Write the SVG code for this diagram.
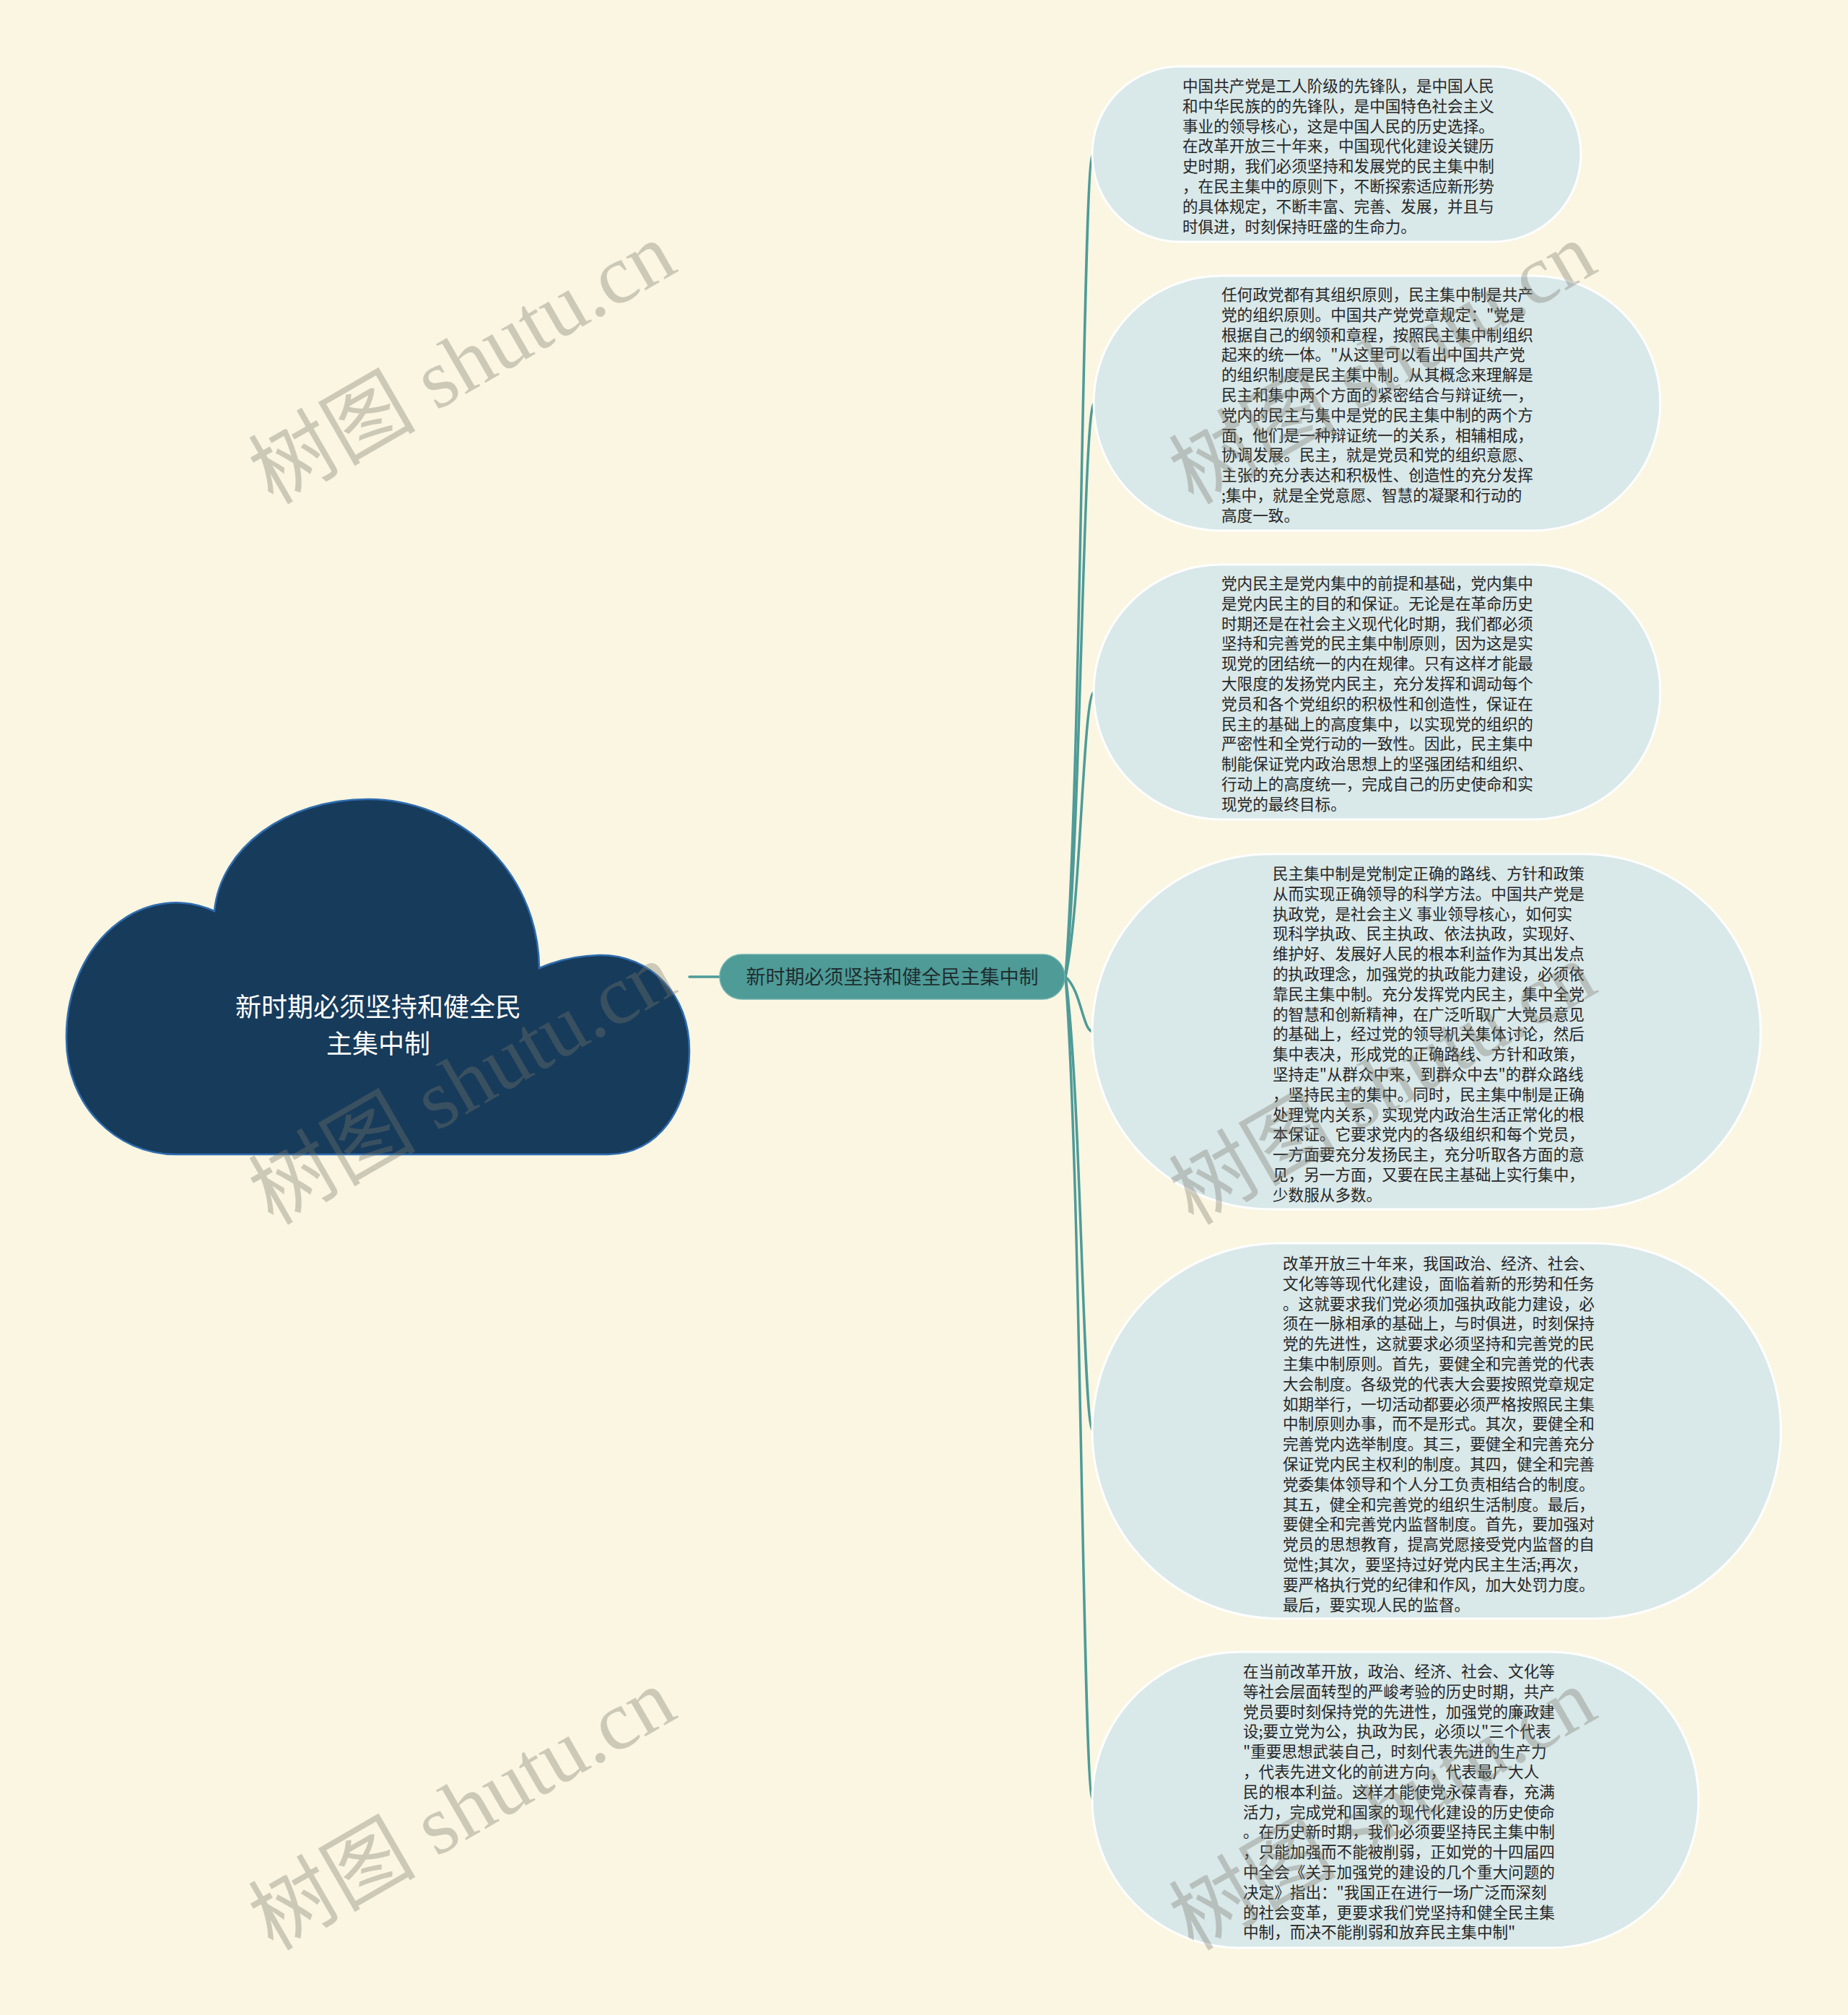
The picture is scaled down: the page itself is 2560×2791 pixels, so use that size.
<svg xmlns="http://www.w3.org/2000/svg" width="2560" height="2791" viewBox="0 0 2560 2791">
<style>
.leaf{fill:#d9e8e9;stroke:#ffffff;stroke-width:3}
.lt{font-family:"Noto Sans CJK SC","Noto Sans",sans-serif;font-size:21.6px;fill:#262626}
.conn{fill:none;stroke:#4e9b98;stroke-width:3.5;stroke-linecap:round}
.wm{font-family:"Liberation Serif","Noto Sans CJK SC",serif;font-size:116px;fill:#7a786a;opacity:0.35}
</style>
<rect x="0" y="0" width="2560" height="2791" fill="#faf6e2"/>
<g id="connectors">
<path class="conn" d="M955 1353 H997"/>
<path class="conn" d="M1476 1353 C1498 1068 1500 214 1514 214"/>
<path class="conn" d="M1476 1353 C1498 1154 1500 558 1516 558"/>
<path class="conn" d="M1476 1353 C1498 1254 1500 958 1516 958"/>
<path class="conn" d="M1476 1353 C1498 1372 1500 1429 1514 1429"/>
<path class="conn" d="M1476 1353 C1498 1510 1500 1982 1514 1982"/>
<path class="conn" d="M1476 1353 C1498 1638 1500 2493 1514 2493"/>
</g>
<g id="root">
<path d="M244 1599 L842 1599 C912 1599 955 1535 955 1455 C955 1378 902 1322 830 1323 C795 1324 765 1333 747 1341 C745 1200 630 1107 510 1107 C395 1107 305 1175 297 1262 A152 185 0 0 0 92 1440 C92 1530 160 1599 244 1599 Z" fill="#173b5b" stroke="#2f6db0" stroke-width="2.5"/>
<text x="524" font-family="'Noto Sans CJK SC','Noto Sans',sans-serif" font-size="36" fill="#ffffff" text-anchor="middle"><tspan x="524" y="1408">新时期必须坚持和健全民</tspan><tspan x="524" y="1459">主集中制</tspan></text>
</g>
<g id="center">
<rect x="997" y="1322" width="478" height="62" rx="31" fill="#4e9b98" stroke="#6cb2ad" stroke-width="1.5"/>
<text x="1236" y="1363" font-family="'Noto Sans CJK SC','Noto Sans',sans-serif" font-size="27" fill="#1f2f2f" text-anchor="middle">新时期必须坚持和健全民主集中制</text>
</g>
<g id="n1">
<rect class="leaf" x="1513" y="92" width="677" height="243" rx="121.5"/>
<text class="lt"><tspan x="1638" y="127">中国共产党是工人阶级的先锋队，是中国人民</tspan><tspan x="1638" dy="27.8">和中华民族的的先锋队，是中国特色社会主义</tspan><tspan x="1638" dy="27.8">事业的领导核心，这是中国人民的历史选择。</tspan><tspan x="1638" dy="27.8">在改革开放三十年来，中国现代化建设关键历</tspan><tspan x="1638" dy="27.8">史时期，我们必须坚持和发展党的民主集中制</tspan><tspan x="1638" dy="27.8">，在民主集中的原则下，不断探索适应新形势</tspan><tspan x="1638" dy="27.8">的具体规定，不断丰富、完善、发展，并且与</tspan><tspan x="1638" dy="27.8">时俱进，时刻保持旺盛的生命力。</tspan></text>
</g>
<g id="n2">
<rect class="leaf" x="1515" y="382" width="785" height="353" rx="176.5"/>
<text class="lt"><tspan x="1692" y="416">任何政党都有其组织原则，民主集中制是共产</tspan><tspan x="1692" dy="27.8">党的组织原则。中国共产党党章规定："党是</tspan><tspan x="1692" dy="27.8">根据自己的纲领和章程，按照民主集中制组织</tspan><tspan x="1692" dy="27.8">起来的统一体。"从这里可以看出中国共产党</tspan><tspan x="1692" dy="27.8">的组织制度是民主集中制。从其概念来理解是</tspan><tspan x="1692" dy="27.8">民主和集中两个方面的紧密结合与辩证统一，</tspan><tspan x="1692" dy="27.8">党内的民主与集中是党的民主集中制的两个方</tspan><tspan x="1692" dy="27.8">面，他们是一种辩证统一的关系，相辅相成，</tspan><tspan x="1692" dy="27.8">协调发展。民主，就是党员和党的组织意愿、</tspan><tspan x="1692" dy="27.8">主张的充分表达和积极性、创造性的充分发挥</tspan><tspan x="1692" dy="27.8">;集中，就是全党意愿、智慧的凝聚和行动的</tspan><tspan x="1692" dy="27.8">高度一致。</tspan></text>
</g>
<g id="n3">
<rect class="leaf" x="1515" y="782" width="785" height="353" rx="176.5"/>
<text class="lt"><tspan x="1692" y="816">党内民主是党内集中的前提和基础，党内集中</tspan><tspan x="1692" dy="27.8">是党内民主的目的和保证。无论是在革命历史</tspan><tspan x="1692" dy="27.8">时期还是在社会主义现代化时期，我们都必须</tspan><tspan x="1692" dy="27.8">坚持和完善党的民主集中制原则，因为这是实</tspan><tspan x="1692" dy="27.8">现党的团结统一的内在规律。只有这样才能最</tspan><tspan x="1692" dy="27.8">大限度的发扬党内民主，充分发挥和调动每个</tspan><tspan x="1692" dy="27.8">党员和各个党组织的积极性和创造性，保证在</tspan><tspan x="1692" dy="27.8">民主的基础上的高度集中，以实现党的组织的</tspan><tspan x="1692" dy="27.8">严密性和全党行动的一致性。因此，民主集中</tspan><tspan x="1692" dy="27.8">制能保证党内政治思想上的坚强团结和组织、</tspan><tspan x="1692" dy="27.8">行动上的高度统一，完成自己的历史使命和实</tspan><tspan x="1692" dy="27.8">现党的最终目标。</tspan></text>
</g>
<g id="n4">
<rect class="leaf" x="1513" y="1183" width="926" height="492" rx="246"/>
<text class="lt"><tspan x="1763" y="1218">民主集中制是党制定正确的路线、方针和政策</tspan><tspan x="1763" dy="27.8">从而实现正确领导的科学方法。中国共产党是</tspan><tspan x="1763" dy="27.8">执政党，是社会主义 事业领导核心，如何实</tspan><tspan x="1763" dy="27.8">现科学执政、民主执政、依法执政，实现好、</tspan><tspan x="1763" dy="27.8">维护好、发展好人民的根本利益作为其出发点</tspan><tspan x="1763" dy="27.8">的执政理念，加强党的执政能力建设，必须依</tspan><tspan x="1763" dy="27.8">靠民主集中制。充分发挥党内民主，集中全党</tspan><tspan x="1763" dy="27.8">的智慧和创新精神，在广泛听取广大党员意见</tspan><tspan x="1763" dy="27.8">的基础上，经过党的领导机关集体讨论，然后</tspan><tspan x="1763" dy="27.8">集中表决，形成党的正确路线、方针和政策，</tspan><tspan x="1763" dy="27.8">坚持走"从群众中来，到群众中去"的群众路线</tspan><tspan x="1763" dy="27.8">，坚持民主的集中。同时，民主集中制是正确</tspan><tspan x="1763" dy="27.8">处理党内关系，实现党内政治生活正常化的根</tspan><tspan x="1763" dy="27.8">本保证。它要求党内的各级组织和每个党员，</tspan><tspan x="1763" dy="27.8">一方面要充分发扬民主，充分听取各方面的意</tspan><tspan x="1763" dy="27.8">见，另一方面，又要在民主基础上实行集中，</tspan><tspan x="1763" dy="27.8">少数服从多数。</tspan></text>
</g>
<g id="n5">
<rect class="leaf" x="1513" y="1722" width="954" height="520" rx="260"/>
<text class="lt"><tspan x="1777" y="1758">改革开放三十年来，我国政治、经济、社会、</tspan><tspan x="1777" dy="27.8">文化等等现代化建设，面临着新的形势和任务</tspan><tspan x="1777" dy="27.8">。这就要求我们党必须加强执政能力建设，必</tspan><tspan x="1777" dy="27.8">须在一脉相承的基础上，与时俱进，时刻保持</tspan><tspan x="1777" dy="27.8">党的先进性，这就要求必须坚持和完善党的民</tspan><tspan x="1777" dy="27.8">主集中制原则。首先，要健全和完善党的代表</tspan><tspan x="1777" dy="27.8">大会制度。各级党的代表大会要按照党章规定</tspan><tspan x="1777" dy="27.8">如期举行，一切活动都要必须严格按照民主集</tspan><tspan x="1777" dy="27.8">中制原则办事，而不是形式。其次，要健全和</tspan><tspan x="1777" dy="27.8">完善党内选举制度。其三，要健全和完善充分</tspan><tspan x="1777" dy="27.8">保证党内民主权利的制度。其四，健全和完善</tspan><tspan x="1777" dy="27.8">党委集体领导和个人分工负责相结合的制度。</tspan><tspan x="1777" dy="27.8">其五，健全和完善党的组织生活制度。最后，</tspan><tspan x="1777" dy="27.8">要健全和完善党内监督制度。首先，要加强对</tspan><tspan x="1777" dy="27.8">党员的思想教育，提高党愿接受党内监督的自</tspan><tspan x="1777" dy="27.8">觉性;其次，要坚持过好党内民主生活;再次，</tspan><tspan x="1777" dy="27.8">要严格执行党的纪律和作风，加大处罚力度。</tspan><tspan x="1777" dy="27.8">最后，要实现人民的监督。</tspan></text>
</g>
<g id="n6">
<rect class="leaf" x="1513" y="2288" width="840" height="410" rx="205"/>
<text class="lt"><tspan x="1722" y="2323">在当前改革开放，政治、经济、社会、文化等</tspan><tspan x="1722" dy="27.8">等社会层面转型的严峻考验的历史时期，共产</tspan><tspan x="1722" dy="27.8">党员要时刻保持党的先进性，加强党的廉政建</tspan><tspan x="1722" dy="27.8">设;要立党为公，执政为民，必须以"三个代表</tspan><tspan x="1722" dy="27.8">"重要思想武装自己，时刻代表先进的生产力</tspan><tspan x="1722" dy="27.8">，代表先进文化的前进方向，代表最广大人</tspan><tspan x="1722" dy="27.8">民的根本利益。这样才能使党永葆青春，充满</tspan><tspan x="1722" dy="27.8">活力，完成党和国家的现代化建设的历史使命</tspan><tspan x="1722" dy="27.8">。在历史新时期，我们必须要坚持民主集中制</tspan><tspan x="1722" dy="27.8">，只能加强而不能被削弱，正如党的十四届四</tspan><tspan x="1722" dy="27.8">中全会《关于加强党的建设的几个重大问题的</tspan><tspan x="1722" dy="27.8">决定》指出："我国正在进行一场广泛而深刻</tspan><tspan x="1722" dy="27.8">的社会变革，更要求我们党坚持和健全民主集</tspan><tspan x="1722" dy="27.8">中制，而决不能削弱和放弃民主集中制"</tspan></text>
</g>
<g id="watermarks">
<text class="wm" transform="translate(378,700) rotate(-30)">树图 shutu.cn</text>
<text class="wm" transform="translate(1653,700) rotate(-30)">树图 shutu.cn</text>
<text class="wm" transform="translate(378,1698) rotate(-30)">树图 shutu.cn</text>
<text class="wm" transform="translate(1653,1698) rotate(-30)">树图 shutu.cn</text>
<text class="wm" transform="translate(378,2703) rotate(-30)">树图 shutu.cn</text>
<text class="wm" transform="translate(1653,2703) rotate(-30)">树图 shutu.cn</text>
</g>
</svg>
